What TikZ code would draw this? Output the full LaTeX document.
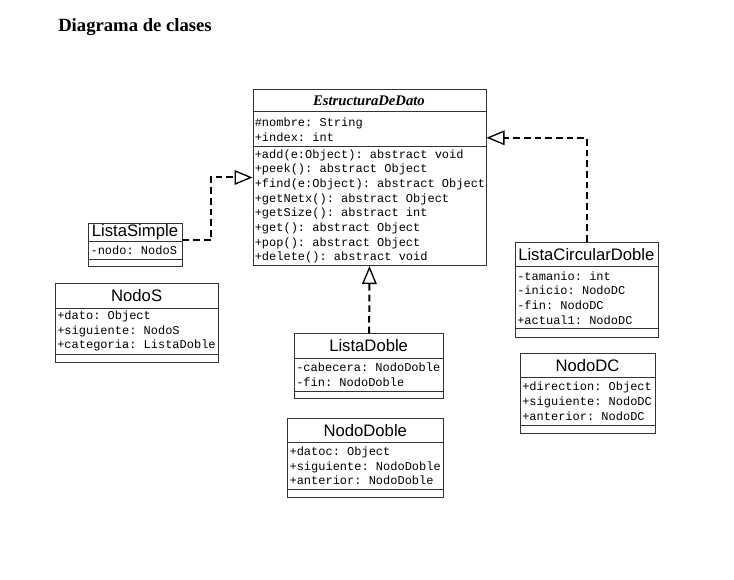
\documentclass[tikz,border=0pt]{standalone}
\usepackage{fontspec}
\setmainfont{Liberation Serif}
\setsansfont{Liberation Sans}
\setmonofont{Liberation Mono}
\usetikzlibrary{arrows.meta}

\tikzset{
  classbox/.style={draw=black!80, line width=0.75pt, anchor=north west, inner sep=0pt},
  sepline/.style={draw=black!80, line width=0.75pt},
  classname/.style={font=\sffamily\fontsize{12.5}{14}\selectfont, inner sep=0pt},
  members/.style={font=\ttfamily\fontsize{9}{11}\selectfont, anchor=west, align=left, inner xsep=1.5pt, inner ysep=0pt},
  realiza/.style={line width=1.5pt, dash pattern=on 5pt off 3pt,
    -{Triangle[open, length=13.5pt, width=11pt, line width=1pt]}}
}

% class box: name, left, top, width, title h, attr h, empty h, class name, attributes
\newcommand{\umlclass}[9]{%
  \node[classbox, minimum width=#4*0.75pt, minimum height=(#5+#6+#7)*0.75pt] (#1) at (#2,#3) {};
  \draw[sepline] (#2,#3+#5) -- ++(#4,0);
  \draw[sepline] (#2,#3+#5+#6) -- ++(#4,0);
  \node[classname] (#1-name) at (#2+#4/2,#3+#5/2) {#8};
  \node[members] (#1-attr) at (#2,#3+#5+#6/2) {#9};
}

\begin{document}
\begin{tikzpicture}[x=0.75pt, y=-0.75pt]
\useasboundingbox (0,0) rectangle (734,580);

% Title
\node[anchor=base west, inner sep=0pt, font=\bfseries\fontsize{14}{17}\selectfont] (title) at (58,32) {Diagrama de clases};

% Abstract class
\node[classbox, minimum width=233*0.75pt, minimum height=176*0.75pt] (est) at (252.5,89) {};
\draw[sepline] (252.5,112) -- ++(233,0);
\draw[sepline] (252.5,146.7) -- ++(233,0);
\node[inner sep=0pt, font=\bfseries\itshape\fontsize{11}{13}\selectfont] (est-name) at (369,100.5) {EstructuraDeDato};
\node[members] (est-attr) at (252.5,129.6) {\#nombre: String\\+index: int};
\node[members] (est-ops) at (252.5,206.3) {%
+add(e:Object): abstract void\\
+peek(): abstract Object\\
+find(e:Object): abstract Object\\
+getNetx(): abstract Object\\
+getSize(): abstract int\\
+get(): abstract Object\\
+pop(): abstract Object\\
+delete(): abstract void};

% Classes
\umlclass{lsimple}{88.3}{223.3}{93.4}{18.3}{17.7}{6.7}{ListaSimple}{-nodo: NodoS}
\umlclass{nodos}{55}{283.3}{163.3}{25}{45.7}{8.3}{NodoS}{+dato: Object\\+siguiente: NodoS\\+categoria: ListaDoble}
\umlclass{ldoble}{294}{333.3}{149.3}{25}{33.4}{6.6}{ListaDoble}{-cabecera: NodoDoble\\-fin: NodoDoble}
\umlclass{ndoble}{287.3}{418.3}{156}{24.4}{46.6}{8}{NodoDoble}{+datoc: Object\\+siguiente: NodoDoble\\+anterior: NodoDoble}
\umlclass{lcd}{515}{241.7}{142.7}{25}{62.3}{7.7}{ListaCircularDoble}{-tamanio: int\\-inicio: NodoDC\\-fin: NodoDC\\+actual1: NodoDC}
\umlclass{ndc}{520}{353.3}{135}{24}{47.7}{8.3}{NodoDC}{+direction: Object\\+siguiente: NodoDC\\+anterior: NodoDC}

% Realizations
\draw[realiza] ([yshift=3.5pt]lsimple.east) -- ++(28.3,0) |- (est.west);
\draw[realiza] (ldoble.north) -- (est.south);
\draw[realiza] (lcd.north) |- ([yshift=29.8pt]est.east);

\end{tikzpicture}
\end{document}
